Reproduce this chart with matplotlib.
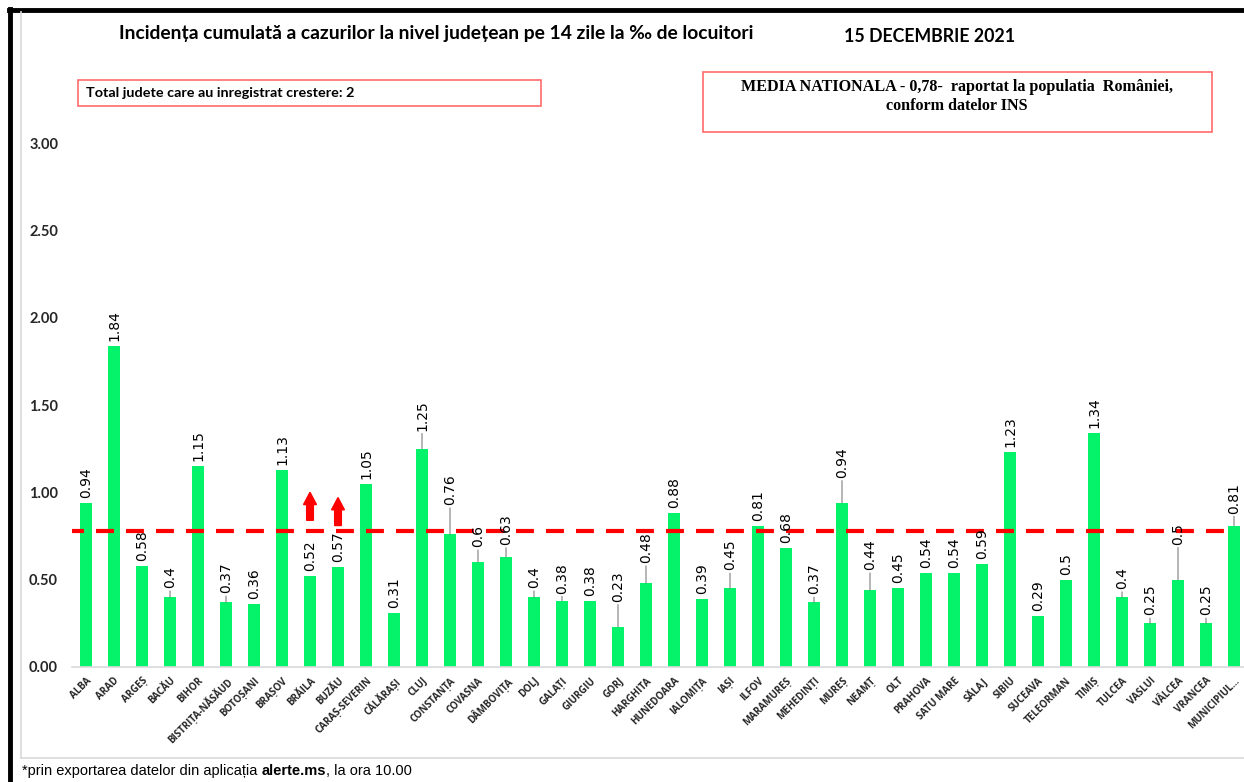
import matplotlib
matplotlib.use('Agg')
import matplotlib.pyplot as plt
from matplotlib.lines import Line2D
from matplotlib.patches import Rectangle, FancyArrow

# date judetene
judete = ['ALBA', 'ARAD', 'ARGEȘ', 'BACĂU', 'BIHOR', 'BISTRIȚA-NĂSĂUD', 'BOTOȘANI', 'BRAȘOV',
          'BRĂILA', 'BUZĂU', 'CARAȘ-SEVERIN', 'CĂLĂRAȘI', 'CLUJ', 'CONSTANȚA', 'COVASNA',
          'DÂMBOVIȚA', 'DOLJ', 'GALAȚI', 'GIURGIU', 'GORJ', 'HARGHITA', 'HUNEDOARA', 'IALOMIȚA',
          'IAȘI', 'ILFOV', 'MARAMUREȘ', 'MEHEDINȚI', 'MUREȘ', 'NEAMȚ', 'OLT', 'PRAHOVA',
          'SATU MARE', 'SĂLAJ', 'SIBIU', 'SUCEAVA', 'TELEORMAN', 'TIMIȘ', 'TULCEA', 'VASLUI',
          'VÂLCEA', 'VRANCEA', 'MUNICIPIUL...']
incidenta = [0.94, 1.84, 0.58, 0.4, 1.15, 0.37, 0.36, 1.13, 0.52, 0.57, 1.05, 0.31, 1.25, 0.76,
             0.6, 0.63, 0.4, 0.38, 0.38, 0.23, 0.48, 0.88, 0.39, 0.45, 0.81, 0.68, 0.37, 0.94,
             0.44, 0.45, 0.54, 0.54, 0.59, 1.23, 0.29, 0.5, 1.34, 0.4, 0.25, 0.5, 0.25, 0.81]
etichete = ['0.94', '1.84', '0.58', '0.4', '1.15', '0.37', '0.36', '1.13', '0.52', '0.57', '1.05',
            '0.31', '1.25', '0.76', '0.6', '0.63', '0.4', '0.38', '0.38', '0.23', '0.48', '0.88',
            '0.39', '0.45', '0.81', '0.68', '0.37', '0.94', '0.44', '0.45', '0.54', '0.54', '0.59',
            '1.23', '0.29', '0.5', '1.34', '0.4', '0.25', '0.5', '0.25', '0.81']
media_nationala = 0.78
crestere = ['BRĂILA', 'BUZĂU']
y_ticks = [0.0, 0.5, 1.0, 1.5, 2.0, 2.5, 3.0]

# distanta eticheta-bara (px) pentru etichetele mutate
gap_px = {'BACĂU': 9, 'BISTRIȚA-NĂSĂUD': 9, 'CLUJ': 18, 'CONSTANȚA': 29, 'COVASNA': 15,
          'DÂMBOVIȚA': 12, 'DOLJ': 9, 'GALAȚI': 7, 'GORJ': 25, 'HARGHITA': 20, 'IAȘI': 18,
          'MEHEDINȚI': 8, 'MUREȘ': 25, 'NEAMȚ': 20, 'TULCEA': 8, 'VASLUI': 8, 'VÂLCEA': 35,
          'VRANCEA': 8, 'MUNICIPIUL...': 12}

W, H = 1244, 782
fig = plt.figure(figsize=(W / 100, H / 100), dpi=100)
fig.patch.set_facecolor('white')

x0, y0 = 72, 667
span = (W - x0) / 28.0
ax = fig.add_axes([x0 / W, 1 - y0 / H, (W - x0) / W, (y0 - 55.7) / H])
x = list(range(len(judete)))
ax.bar(x, incidenta, width=0.41, color='#05F26B', zorder=2)
ax.set_xlim(-0.5, -0.5 + span)
ax.set_ylim(0, 3.5)

for s in ['top', 'right', 'left']:
    ax.spines[s].set_visible(False)
ax.spines['bottom'].set_color('#d9d9d9')
ax.spines['bottom'].set_linewidth(1.2)

ax.set_yticks(y_ticks)
ax.set_yticklabels(['%.2f' % t for t in y_ticks], fontsize=10.5, fontweight='bold',
                   family=['Lato', 'DejaVu Sans'], color='#262626')
ax.tick_params(axis='y', length=0, pad=10)
ax.set_xticks(x)
ax.set_xticklabels(judete, rotation=45, ha='right', va='top', rotation_mode='anchor',
                   fontsize=7, fontweight='bold', family=['Open Sans', 'DejaVu Sans'],
                   color='#262626')
ax.tick_params(axis='x', length=0, pad=6)

# linia mediei nationale
ax.plot([-0.72, 41.0], [media_nationala, media_nationala], color='#ff0000', lw=3.0,
        dashes=(4.3, 2.9), zorder=3)

# etichete valori
for i, (j, v) in enumerate(zip(judete, incidenta)):
    g = gap_px.get(j, 5) * 0.72
    props = None
    if j in gap_px:
        props = dict(arrowstyle='-', color='#7f7f7f', lw=0.8, shrinkA=0, shrinkB=0)
    ax.annotate(etichete[i], xy=(i, v), xytext=(0, g), textcoords='offset points', rotation=90,
                ha='center', va='bottom', fontsize=10, color='black',
                family='DejaVu Sans', arrowprops=props, zorder=4)

# sageti crestere
for j in crestere:
    i = judete.index(j)
    base = incidenta[i] + (0.32 if j == 'BRĂILA' else 0.24)
    ax.add_patch(FancyArrow(i, base, 0, 0.16, width=0.24, head_width=0.46, head_length=0.07,
                            length_includes_head=True, color='#ff0000', zorder=5))

# cadru
fig.add_artist(Line2D([10 / W, 10 / W], [0, 1 - 9 / H], color='black', lw=3.5))
fig.add_artist(Line2D([9 / W, 1], [1 - 10 / H, 1 - 10 / H], color='black', lw=3.5))
fig.add_artist(Line2D([21 / W, 21 / W], [1 - 758 / H, 1 - 12 / H], color='#d9d9d9', lw=1.2))
fig.add_artist(Line2D([21 / W, 1], [1 - 758 / H, 1 - 758 / H], color='#d9d9d9', lw=1.2))

# titluri
fig.text(436 / W, 1 - 33 / H, 'Incidența cumulată a cazurilor la nivel județean pe 14 zile la ‰ de locuitori',
         ha='center', va='center', fontsize=13.9, fontweight='bold', family=['Lato', 'DejaVu Sans'])
fig.text(930 / W, 1 - 37 / H, '15 DECEMBRIE 2021', ha='center', va='center', fontsize=12.8,
         fontweight='bold', family=['Lato', 'DejaVu Sans'])

# casete
fig.add_artist(Rectangle((78 / W, 1 - 106 / H), 463 / W, 26 / H, transform=fig.transFigure,
                         fill=False, edgecolor='#ff6b6b', lw=1.2))
fig.text(86 / W, 1 - 93 / H, 'Total judete care au inregistrat crestere: 2', ha='left', va='center',
         fontsize=10.4, fontweight='bold', family=['Lato', 'DejaVu Sans'])
fig.add_artist(Rectangle((703 / W, 1 - 132 / H), 509 / W, 60 / H, transform=fig.transFigure,
                         fill=False, edgecolor='#ff6b6b', lw=1.2))
fig.text(957 / W, 1 - 87 / H, 'MEDIA NATIONALA - 0,78-  raportat la populatia  României,',
         ha='center', va='center', fontsize=11.6, fontweight='bold', family='Liberation Serif')
fig.text(957 / W, 1 - 106 / H, 'conform datelor INS', ha='center', va='center', fontsize=11.6,
         fontweight='bold', family='Liberation Serif')

# nota de subsol
r = fig.canvas.get_renderer()
px = 22
for txt, wt in [('*prin exportarea datelor din aplicația ', 'normal'), ('alerte.ms', 'bold'),
                (', la ora 10.00', 'normal')]:
    t = fig.text(px / W, 1 - 771 / H, txt, ha='left', va='center', fontsize=10.5, fontweight=wt,
                 family='Liberation Sans')
    px += t.get_window_extent(renderer=r).width

fig.savefig('out.png', dpi=100)
